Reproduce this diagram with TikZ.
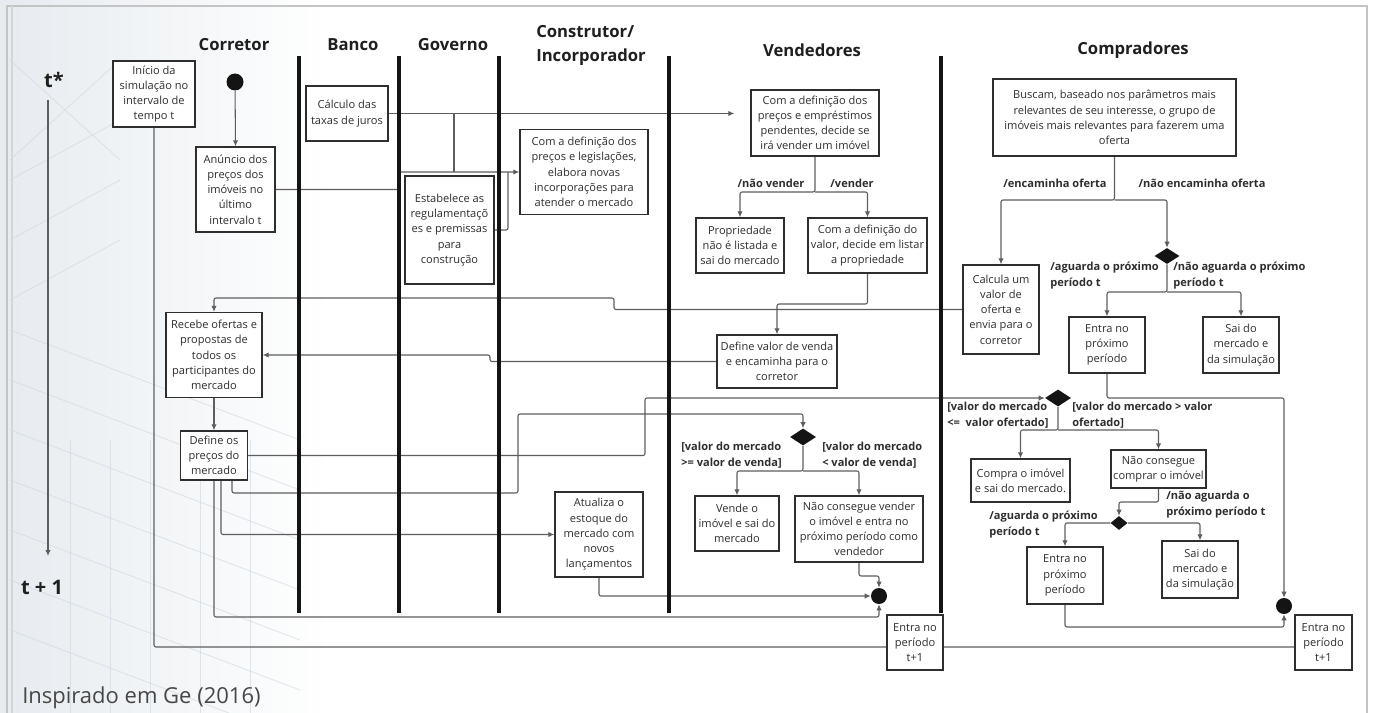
\documentclass[tikz,border=0pt]{standalone}
\usepackage{fontspec}
\setmainfont{Open Sans}
\usetikzlibrary{arrows.meta,shapes.geometric,calc}
\pgfdeclarelayer{bg}
\pgfdeclarelayer{wires}
\pgfsetlayers{bg,wires,main}
\definecolor{ink}{HTML}{2E2E2E}
\definecolor{wirecol}{HTML}{5E5E5E}
\definecolor{framecol}{HTML}{C4C4C4}
\definecolor{sketch}{HTML}{C9D3DC}

\tikzset{
  box/.style={draw=ink, line width=1pt, fill=white, text=ink, align=center,
              inner sep=0pt, font=\fontsize{8.3}{11.4}\selectfont},
  sz/.style 2 args={minimum width=#1*0.75pt, minimum height=#2*0.75pt},
  lab/.style={font=\bfseries\fontsize{8.3}{12}\selectfont, text=ink, inner sep=0pt, align=left},
  hdr/.style={font=\bfseries\fontsize{12.5}{18}\selectfont, text=black!88, inner sep=0pt},
  timelab/.style={font=\bfseries\fontsize{15}{18}\selectfont, text=black!88, inner sep=0pt},
  wire/.style={draw=wirecol, line width=0.8pt, rounded corners=1.5pt},
  arr/.style={wire, -{Latex[length=4.5pt,width=4pt]}},
  lane/.style={line width=2.6pt, black!92},
  dec/.style 2 args={diamond, fill=black!92, draw=none, inner sep=0pt,
                     minimum width=#1*0.75pt, minimum height=#2*0.75pt},
  endpt/.style={circle, fill=black!92, draw=none, inner sep=0pt, minimum size=#1*0.75pt},
}

\begin{document}
\begin{tikzpicture}[x=0.75pt, y=-0.75pt]
\useasboundingbox (0,0) rectangle (1373,713);

% ---------- backdrop ----------
\begin{pgfonlayer}{bg}
  \fill[white] (0,0) rectangle (1373,713);
  \shade[left color=sketch!45, right color=white] (0,0) rectangle (330,713);
  \begin{scope}[draw=sketch, line width=0.6pt, opacity=0.55]
    \foreach \y in {330,380,430,480,530,580,630}
      \draw (10,\y) -- (300,\y+110);
    \foreach \y in {180,240,300}
      \draw (10,\y) -- (120,\y-60);
    \foreach \x in {70,110,150,200,250}
      \draw (\x,440) -- (\x,713);
    \draw (10,60) -- (120,160) (10,160) -- (120,60);
  \end{scope}
  \draw[framecol, line width=1.2pt] (7,720) -- (7,6) -- (1367,6) -- (1367,720);
  \draw[framecol!70, line width=0.8pt] (12,720) -- (12,6);
\end{pgfonlayer}

% ---------- lane headers and separators ----------
\node[hdr] (hCor) at (234,45) {Corretor};
\node[hdr] (hBan) at (353,45) {Banco};
\node[hdr] (hGov) at (453,45) {Governo};
\node[hdr, align=left, anchor=west] (hCon) at (536,45) {Construtor/\\Incorporador};
\node[hdr] (hVen) at (812,50) {Vendedores};
\node[hdr] (hCom) at (1133,50) {Compradores};

\foreach \x in {299,399,499,669,941}
  \draw[lane] (\x,56) -- (\x,613);

% ---------- time axis ----------
\node[timelab] (tstar) at (54,80) {t*};
\node[timelab] (tnext) at (42,587) {t + 1};
\coordinate (ax0) at (48,100);
\coordinate (ax1) at (48,556);
\draw[arr] (ax0) -- (ax1);

\node[anchor=west, font=\fontsize{16.5}{18}\selectfont, text=black!72, inner sep=0pt]
  (src) at (22,698) {Inspirado em Ge (2016)};

% ---------- Corretor ----------
\node[box, sz={82}{66}] (inicio) at (154,94) {Início da\\simulação no\\intervalo de\\tempo t};
\node[endpt=17] (start) at (235,82) {};
\node[box, sz={79}{85}] (anuncio) at (235.5,189.5) {Anúncio dos\\preços dos\\imóveis no\\último\\intervalo t};
\node[box, sz={96}{85}] (recebe) at (214,355) {Recebe ofertas e\\propostas de\\todos os\\participantes do\\mercado};
\node[box, sz={67}{49}] (defprec) at (214,455.5) {Define os\\preços do\\mercado};

% ---------- Banco / Governo / Construtor ----------
\node[box, sz={82}{55}] (calculo) at (347,113.5) {Cálculo das\\taxas de juros};
\node[box, sz={89}{108}] (estab) at (449.5,230) {Estabelece as\\regulamentaçõ\\es e premissas\\para\\construção};
\node[box, sz={128}{85}] (incorp) at (584,172) {Com a definição dos\\preços e legislações,\\elabora novas\\incorporações para\\atender o mercado};
\node[box, sz={88}{85}] (atualiza) at (599,534.5) {Atualiza o\\estoque do\\mercado com\\novos\\lançamentos};

% ---------- Vendedores ----------
\node[box, sz={128}{66}] (vdecide) at (815,123) {Com a definição dos\\preços e empréstimos\\pendentes, decide se\\irá vender um imóvel};
\node[box, sz={88}{55}] (naolist) at (740,245.5) {Propriedade\\não é listada e\\sai do mercado};
\node[box, sz={119}{55}] (listar) at (867.5,245.5) {Com a definição do\\valor, decide em listar\\a propriedade};
\node[box, sz={120}{53}] (defvenda) at (777,361.5) {Define valor de venda\\e encaminha para o\\corretor};
\node[dec={26}{17}] (d1) at (803,437) {};
\node[box, sz={84}{55}] (vende) at (737,523.5) {Vende o\\imóvel e sai do\\mercado};
\node[box, sz={128}{66}] (naovende) at (859,529) {Não consegue vender\\o imóvel e entra no\\próximo período como\\vendedor};
\node[endpt=16] (c1) at (879,596) {};
\node[box, sz={56}{55}] (entra1) at (915,642.5) {Entra no\\período\\t+1};

% ---------- Compradores ----------
\node[box, sz={243}{77}] (buscam) at (1114.5,117.5) {Buscam, baseado nos parâmetros mais\\relevantes de seu interesse, o grupo de\\imóveis mais relevantes para fazerem uma\\oferta};
\node[box, sz={76}{89}] (calcula) at (1001,309.5) {Calcula um\\valor de\\oferta e\\envia para o\\corretor};
\node[dec={25}{16}] (d3) at (1167,256) {};
\node[box, sz={76}{56}] (prox1) at (1107,345) {Entra no\\próximo\\período};
\node[box, sz={76}{56}] (sai1) at (1241,345) {Sai do\\mercado e\\da simulação};
\node[dec={26}{17}] (d2) at (1058,398) {};
\node[box, sz={99}{43}] (compra) at (1020.5,480.5) {Compra o imóvel\\e sai do mercado.};
\node[box, sz={95}{38}] (naocompra) at (1158.5,469) {Não consegue\\comprar o imóvel};
\node[dec={17}{14}] (d4) at (1119,523) {};
\node[box, sz={76}{57}] (prox2) at (1065,575.5) {Entra no\\próximo\\período};
\node[box, sz={76}{57}] (sai2) at (1200,569.5) {Sai do\\mercado e\\da simulação};
\node[endpt=16] (c2) at (1284,606) {};
\node[box, sz={57}{55}] (entra2) at (1323.5,642.5) {Entra no\\período\\t+1};

% ---------- guard labels ----------
\node[lab] (lnv) at (771,183) {/não vender};
\node[lab] (lv) at (852,183) {/vender};
\node[lab, anchor=west] (lge) at (681,455) {[valor do mercado\\>= valor de venda]};
\node[lab, anchor=west] (llt) at (822,455) {[valor do mercado\\< valor de venda]};
\node[lab] (lenc) at (1055,183) {/encaminha oferta};
\node[lab] (lnenc) at (1202,183) {/não encaminha oferta};
\node[lab, anchor=west] (lag1) at (1050,276) {/aguarda o próximo\\período t};
\node[lab, anchor=west] (lnag1) at (1173,276) {/não aguarda o próximo\\período t};
\node[lab, anchor=west] (lle) at (947,415.5) {[valor do mercado\\<=\ \ valor ofertado]};
\node[lab, anchor=west] (lgt) at (1072,415.5) {[valor do mercado > valor\\ofertado]};
\node[lab, anchor=west] (lag2) at (989,525) {/aguarda o próximo\\período t};
\node[lab, anchor=west] (lnag2) at (1166,504.5) {/não aguarda o\\próximo período t};

% ---------- connectors ----------
\begin{pgfonlayer}{wires}
  \draw[arr] (start) -- (anuncio.north);
  \draw[wire] (inicio.south) |- (entra2.west |- 0,647);

  \draw[arr] (anuncio.east) -| (399,172) -- (incorp.west);
  \draw[arr, shorten >=12pt] (calculo.east) -- (calculo.east -| vdecide.west);
  \draw[wire] (calculo.east -| 454,0) -- (454,172);
  \draw[wire] (estab.east) -| (508,172);

  \draw[arr] (vdecide.south) -- (vdecide.south |- 0,192) -| (naolist.north);
  \draw[arr] (vdecide.south |- 0,192) -| (listar.north);
  \draw[arr] (listar.south) -- (listar.south |- 0,304) -| (defvenda.north);
  \draw[arr] (defvenda.west) -| (490,355) -- (recebe.east);
  \draw[arr] (calcula.west) -| (614,298) -| (recebe.north);

  \draw[arr] (recebe.south) -- (defprec.north);
  \draw[arr] (defprec.east) -| (645,398) -- (d2.west);
  \draw[arr] (defprec.south -| 232,0) -- (232,493) -| (518,414) -| (d1.north);
  \draw[arr] (defprec.south -| 221,0) |- (atualiza.west);
  \draw[arr] (defprec.south) |- (879,617) -- (c1.south);
  \draw[arr] (atualiza.south) |- (c1.west);

  \draw[arr] (d1.south) -- (d1.south |- 0,471) -| (vende.north);
  \draw[arr] (d1.south |- 0,471) -| (naovende.north);
  \draw[arr] (naovende.south) |- (879,576) -- (c1.north);

  \draw[arr] (buscam.south) -- (buscam.south |- 0,200) -| (calcula.north);
  \draw[arr] (buscam.south |- 0,200) -| (d3.north);
  \draw[arr] (d3.south) -- (d3.south |- 0,292) -| (prox1.north);
  \draw[arr] (d3.south |- 0,292) -| (sai1.north);
  \draw[arr] (prox1.south) |- (1284,398) -- (c2.north);

  \draw[arr] (d2.south) -- (d2.south |- 0,430) -| (compra.north);
  \draw[arr] (d2.south |- 0,430) -| (naocompra.north);
  \draw[arr] (naocompra.south) |- (1119,502) -- (d4.north);
  \draw[arr] (d4.west) -| (prox2.north);
  \draw[arr] (d4.east) -| (sai2.north);
  \draw[arr] (prox2.south) |- (1284,627) -- (c2.south);
\end{pgfonlayer}
\end{tikzpicture}
\end{document}
